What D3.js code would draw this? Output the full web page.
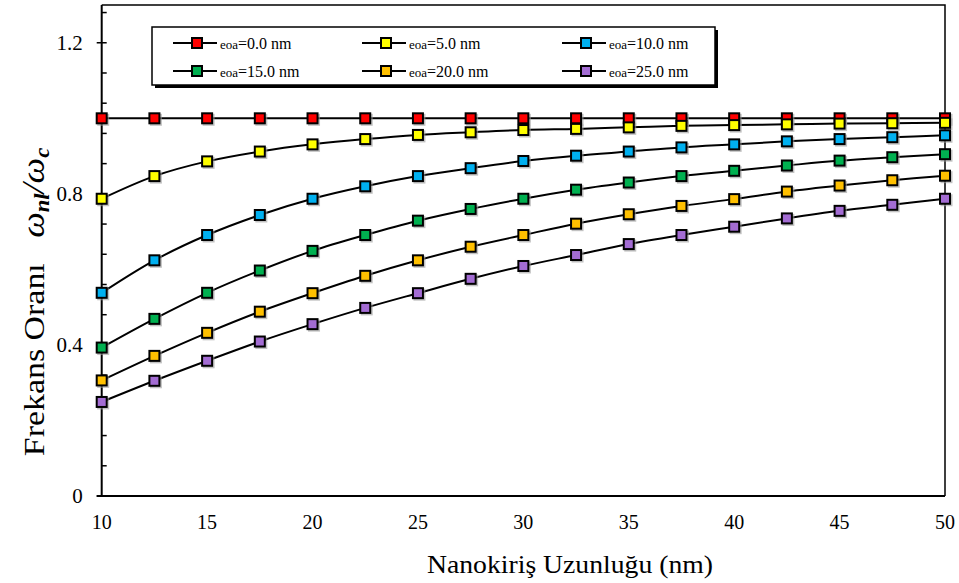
<!DOCTYPE html>
<html><head><meta charset="utf-8">
<script src="https://cdn.jsdelivr.net/npm/d3@7"></script>
<style>
html,body{margin:0;padding:0;background:#fff;}
text{font-family:"Liberation Serif","Times New Roman",serif;}
</style></head>
<body>
<svg id="chart" width="959" height="583"></svg>
<script>
const lengths = [10,12.5,15,17.5,20,22.5,25,27.5,30,32.5,35,37.5,40,42.5,45,47.5,50];
const seriesNames = ["0.0","5.0","10.0","15.0","20.0","25.0"];
const seriesColors = ["#FF0000","#FFFF00","#00B0F0","#00B050","#FFC000","#A36CD3"];
const e0 = [1,1,1,1,1,1,1,1,1,1,1,1,1,1,1,1,1];
const e5 = [0.787,0.847,0.886,0.912,0.931,0.945,0.956,0.963,0.969,0.972,0.976,0.980,0.982,0.984,0.986,0.987,0.988];
const e10 = [0.538,0.624,0.691,0.744,0.787,0.820,0.847,0.868,0.887,0.901,0.912,0.923,0.931,0.939,0.945,0.950,0.955];
const e15 = [0.393,0.469,0.538,0.597,0.649,0.691,0.729,0.760,0.787,0.811,0.830,0.847,0.861,0.875,0.888,0.897,0.905];
const e20 = [0.306,0.371,0.432,0.488,0.537,0.583,0.624,0.660,0.691,0.721,0.746,0.768,0.786,0.806,0.822,0.836,0.848];
const e25 = [0.249,0.305,0.358,0.409,0.455,0.498,0.537,0.575,0.609,0.638,0.667,0.691,0.713,0.735,0.755,0.771,0.787];
const seriesValues = [e0,e5,e10,e15,e20,e25];
const xTicks = [10,15,20,25,30,35,40,45,50];
const yMajor = [0,0.4,0.8,1.2];
const yTickLabels = ["0","0.4","0.8","1.2"];
const yMinor = d3.range(1,17).map(i => +(i*0.08).toFixed(2));

const FONT = "Liberation Serif, Times New Roman, serif";
const svg = d3.select("#chart").attr("font-family",FONT);
const L = 101.7, R = 945, T = 5, B = 496;
const x = d3.scaleLinear().domain([10,50]).range([L,R]);
const y = d3.scaleLinear().domain([0,1.3]).range([B,T]);

// plot frame (top/right)
svg.append("path").attr("d",`M${L},${T}H${R}V${B}`).attr("fill","none").attr("stroke","#000").attr("stroke-width",1.5);

// y minor ticks (inside)
svg.append("g").selectAll("line").data(yMinor.filter(v=>!yMajor.some(m=>Math.abs(m-v)<1e-6))).join("line")
  .attr("x1",L).attr("x2",L+5).attr("y1",d=>y(d)).attr("y2",d=>y(d)).attr("stroke","#000").attr("stroke-width",1.5);
// y major ticks (cross)
svg.append("g").selectAll("line").data(yMajor).join("line")
  .attr("x1",L-5).attr("x2",L+5).attr("y1",d=>y(d)).attr("y2",d=>y(d)).attr("stroke","#000").attr("stroke-width",1.5);
svg.append("g").selectAll("text").data(yMajor).join("text")
  .attr("font-family",FONT)
  .attr("x",L-19).attr("y",d=>y(d)).attr("dy","0.33em").attr("text-anchor","end")
  .attr("font-size",21).text((d,i)=>yTickLabels[i]);

// axes lines
svg.append("line").attr("x1",L).attr("x2",L).attr("y1",T).attr("y2",B).attr("stroke","#000").attr("stroke-width",2);
svg.append("line").attr("x1",L-5).attr("x2",R).attr("y1",B).attr("y2",B).attr("stroke","#000").attr("stroke-width",2);

// x labels
svg.append("g").selectAll("text").data(xTicks).join("text")
  .attr("font-family",FONT)
  .attr("x",d=>x(d)).attr("y",529).attr("text-anchor","middle").attr("font-size",20).text(d=>d);

// titles
svg.append("text").attr("font-family",FONT).attr("x",570).attr("y",573).attr("text-anchor","middle").attr("font-size",26)
  .attr("textLength",286).attr("lengthAdjust","spacingAndGlyphs")
  .text("Nanokiriş Uzunluğu (nm)");
const yt = svg.append("text").attr("font-family",FONT).attr("transform","translate(44,302) rotate(-90) scale(1.13,1)").attr("text-anchor","middle").attr("font-size",30);
yt.append("tspan").text("Frekans Oranı\u00A0\u00A0\u00A0");
yt.append("tspan").attr("font-style","italic").attr("font-size",32).text("ω");
yt.append("tspan").attr("font-style","italic").attr("font-weight","bold").attr("font-size",20).attr("dy",5).text("nl");
yt.append("tspan").attr("font-style","italic").attr("font-size",32).attr("dy",-5).text("/ω");
yt.append("tspan").attr("font-style","italic").attr("font-weight","bold").attr("font-size",20).attr("dy",5).text("c");

// lines
const line = d3.line().x((d,i)=>x(lengths[i])).y(d=>y(d)).curve(d3.curveCatmullRom.alpha(0.5));
const gS = svg.append("g");
seriesValues.forEach((vals,si)=>{
  gS.append("path").attr("d",line(vals)).attr("fill","none").attr("stroke","#000").attr("stroke-width",2);
});
const ms = 10;
seriesValues.forEach((vals,si)=>{
  const g = gS.append("g");
  g.selectAll("rect.sh").data(vals).join("rect").attr("class","sh")
    .attr("x",(d,i)=>x(lengths[i])-ms/2+1.5).attr("y",d=>y(d)-ms/2+1.5).attr("width",ms).attr("height",ms)
    .attr("fill","none").attr("stroke","#999").attr("stroke-width",2).attr("opacity",0.6);
  g.selectAll("rect.mk").data(vals).join("rect").attr("class","mk")
    .attr("x",(d,i)=>x(lengths[i])-ms/2).attr("y",d=>y(d)-ms/2).attr("width",ms).attr("height",ms)
    .attr("fill",seriesColors[si]).attr("stroke","#000").attr("stroke-width",2);
});

// legend
const lg = svg.append("g");
lg.append("rect").attr("x",155).attr("y",30).attr("width",563).attr("height",58).attr("fill","#000");
lg.append("rect").attr("x",152).attr("y",27).attr("width",563).attr("height",58).attr("fill","#fff").attr("stroke","#000").attr("stroke-width",1.5);
const colX = [197,386,586];
const rowY = [43,71];
seriesNames.forEach((nm,i)=>{
  const cx = colX[i%3], cy = rowY[Math.floor(i/3)];
  lg.append("line").attr("x1",cx-24).attr("x2",cx+20).attr("y1",cy).attr("y2",cy).attr("stroke","#000").attr("stroke-width",2);
  lg.append("rect").attr("x",cx-ms/2).attr("y",cy-ms/2).attr("width",ms).attr("height",ms)
    .attr("fill",seriesColors[i]).attr("stroke","#000").attr("stroke-width",2);
  const t = lg.append("text").attr("font-family",FONT).attr("x",cx+23).attr("y",cy).attr("dy","0.35em").attr("font-size",16);
  t.append("tspan").attr("font-size",13).text("eoa");
  t.append("tspan").text("=" + nm + " nm");
});
</script>
</body></html>
